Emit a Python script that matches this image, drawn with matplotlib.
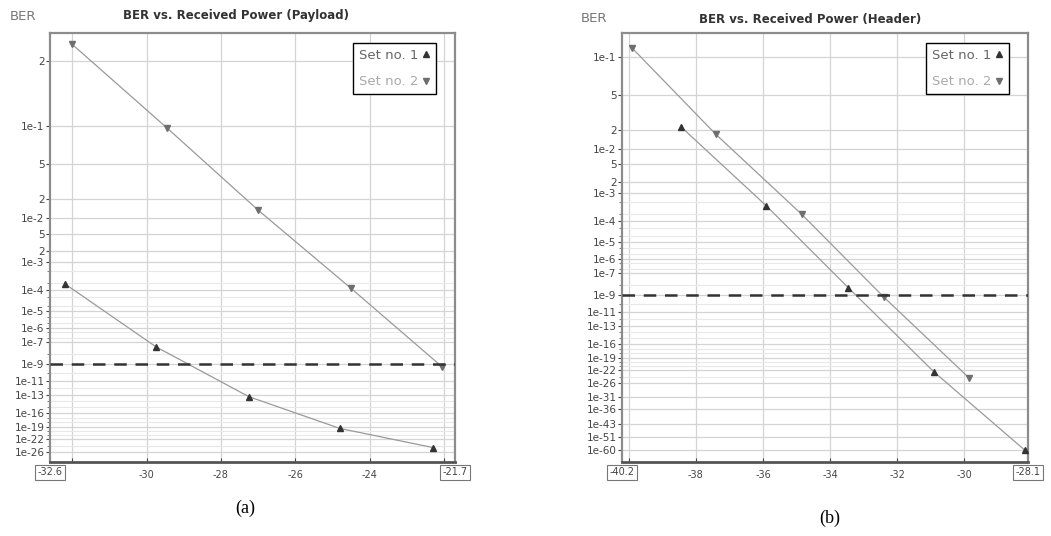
import math
from statistics import NormalDist

import numpy as np
import matplotlib
matplotlib.use("Agg")
import matplotlib.pyplot as plt
from matplotlib.lines import Line2D

# received power (dBm) and BER
x_pay_1 = [-32.2, -29.75, -27.25, -24.8, -22.3]
ber_pay_1 = [1.8e-4, 4e-8, 6e-14, 4e-20, 3e-25]
x_pay_2 = [-32.0, -29.45, -27.0, -24.5, -22.05]
ber_pay_2 = [0.225, 0.097, 1.35e-2, 1.2e-4, 5e-10]

x_hdr_1 = [-38.45, -35.9, -33.45, -30.9, -28.2]
ber_hdr_1 = [2.2e-2, 3.8e-4, 5e-9, 2.4e-23, 1e-60]
x_hdr_2 = [-39.9, -37.4, -34.85, -32.4, -29.85]
ber_hdr_2 = [0.113, 1.7e-2, 1.9e-4, 6e-10, 4e-25]

ber_limit = 1e-9

pay_xlim = (-32.6, -21.7)
hdr_xlim = (-40.2, -28.1)
pay_xticks = [-32, -30, -28, -26, -24, -22]
pay_xlabels = ["", "-30", "-28", "-26", "-24", ""]
hdr_xticks = [-40, -38, -36, -34, -32, -30]
hdr_xlabels = ["", "-38", "-36", "-34", "-32", "-30"]

pay_yticks = [2e-1, 1e-1, 5e-2, 2e-2, 1e-2, 5e-3, 2e-3, 1e-3, 1e-4, 1e-5, 1e-6,
              1e-7, 1e-9, 1e-11, 1e-13, 1e-16, 1e-19, 1e-22, 1e-26]
pay_ylabels = ["2", "1e-1", "5", "2", "1e-2", "5", "2", "1e-3", "1e-4", "1e-5",
               "1e-6", "1e-7", "1e-9", "1e-11", "1e-13", "1e-16", "1e-19", "1e-22", "1e-26"]
hdr_yticks = [1e-1, 5e-2, 2e-2, 1e-2, 5e-3, 2e-3, 1e-3, 1e-4, 1e-5, 1e-6, 1e-7,
              1e-9, 1e-11, 1e-13, 1e-16, 1e-19, 1e-22, 1e-26, 1e-31, 1e-36,
              1e-43, 1e-51, 1e-60]
hdr_ylabels = ["1e-1", "5", "2", "1e-2", "5", "2", "1e-3", "1e-4", "1e-5", "1e-6",
               "1e-7", "1e-9", "1e-11", "1e-13", "1e-16", "1e-19", "1e-22", "1e-26",
               "1e-31", "1e-36", "1e-43", "1e-51", "1e-60"]
minor_yticks = [5e-4, 2e-4, 5e-5, 2e-5, 5e-6, 2e-6, 5e-7, 2e-7, 1e-8, 1e-10,
                1e-12, 1e-14, 1e-15, 1e-17, 1e-18, 1e-20, 1e-21, 1e-24]

_nd = NormalDist()


def _qinv(v):
    if not (v > 0):
        return np.nan
    v = min(max(v, 1e-300), 0.49)
    return -_nd.inv_cdf(v)


# y axis: -log10(Q^-1(BER)), so that the BER falls downward
def ber_fwd(p):
    q = np.vectorize(_qinv, otypes=[float])(np.asarray(p, dtype=float))
    return -np.log10(q)


def ber_inv(y):
    y = np.clip(np.asarray(y, dtype=float), -2, 3)
    return np.vectorize(lambda v: 0.5 * math.erfc(10 ** (-v) / math.sqrt(2)),
                        otypes=[float])(y)


fig = plt.figure(figsize=(10.51, 5.36), dpi=100)
ax_a = fig.add_axes([50 / 1051, 1 - 462 / 536, 405 / 1051, 429 / 536])
ax_b = fig.add_axes([622 / 1051, 1 - 462 / 536, 406 / 1051, 429 / 536])

panels = [
    (ax_a, x_pay_1, ber_pay_1, x_pay_2, ber_pay_2, pay_xlim, pay_xticks, pay_xlabels,
     pay_yticks, pay_ylabels, (0.2415, 4.6e-30)),
    (ax_b, x_hdr_1, ber_hdr_1, x_hdr_2, ber_hdr_2, hdr_xlim, hdr_xticks, hdr_xlabels,
     hdr_yticks, hdr_ylabels, (0.136, 1.5e-70)),
]

for ax, x1, b1, x2, b2, xlim, xt, xl, yt, yl, ylim in panels:
    ax.set_yscale("function", functions=(ber_fwd, ber_inv))
    ax.plot(x1, b1, color="#9a9a9a", lw=0.9, marker="^", ms=5,
            mfc="#333333", mec="#333333", zorder=3)
    ax.plot(x2, b2, color="#9a9a9a", lw=0.9, marker="v", ms=5,
            mfc="#6e6e6e", mec="#6e6e6e", zorder=3)
    ax.axhline(ber_limit, color="#333333", lw=1.8, ls=(0, (5, 3.5)), zorder=4)

    ax.set_xlim(xlim)
    ax.set_ylim(ylim[1], ylim[0])
    ax.set_xticks(xt)
    ax.set_xticklabels(xl)
    ax.set_yticks(yt)
    ax.set_yticklabels(yl)
    ax.set_yticks([m for m in minor_yticks if ylim[1] < m < ylim[0]], minor=True)

    ax.grid(which="major", color="#d4d4d4", lw=0.9)
    ax.grid(which="minor", axis="y", color="#e8e8e8", lw=0.8)
    ax.set_axisbelow(True)
    ax.tick_params(axis="y", which="major", length=3, width=0.8, color="#444444",
                   labelsize=7.5, labelcolor="#444444", pad=1)
    ax.tick_params(axis="y", which="minor", length=2, width=0.6, color="#666666")
    ax.tick_params(axis="x", direction="in", length=3, width=0.8, color="#444444",
                   labelsize=7, labelcolor="#444444", pad=6)
    for side in ["left", "right", "top"]:
        ax.spines[side].set_color("#8c8c8c")
        ax.spines[side].set_linewidth(1.6)
    ax.spines["bottom"].set_color("#555555")
    ax.spines["bottom"].set_linewidth(2)

    # boxed range labels at both ends of the x axis
    for xe, txt in [(0, f"{xlim[0]:g}"), (1, f"{xlim[1]:g}")]:
        ax.text(xe, -0.024, txt, transform=ax.transAxes, ha="center", va="center",
                fontsize=7, color="#444444",
                bbox=dict(boxstyle="square,pad=0.25", fc="white", ec="#777777", lw=0.8))

    handles = [
        Line2D([], [], ls="none", marker="^", ms=5, color="#333333"),
        Line2D([], [], ls="none", marker="v", ms=5, color="#6e6e6e"),
    ]
    leg = ax.legend(handles, ["Set no. 1", "Set no. 2"], loc="upper right",
                    bbox_to_anchor=(1 - 19 / 405, 1 - 10 / 429), borderaxespad=0,
                    markerfirst=False, handlelength=0.6, handletextpad=0.3,
                    labelspacing=1.0, borderpad=0.45, fontsize=9.5, fancybox=False,
                    framealpha=1, edgecolor="black", labelcolor=["#666666", "#aaaaaa"])
    leg.get_frame().set_linewidth(1.0)

fig.text(10 / 1051, 1 - 16 / 536, "BER", fontsize=9.5, color="#777777", va="center")
fig.text(236 / 1051, 1 - 16 / 536, "BER vs. Received Power (Payload)", fontsize=8.5,
         fontweight="bold", color="#333333", ha="center", va="center")
fig.text(581 / 1051, 1 - 19 / 536, "BER", fontsize=9.5, color="#777777", va="center")
fig.text(810 / 1051, 1 - 20 / 536, "BER vs. Received Power (Header)", fontsize=8.5,
         fontweight="bold", color="#333333", ha="center", va="center")

fig.text(245 / 1051, 1 - 508 / 536, "(a)", fontsize=13, family="Liberation Serif",
         ha="center", va="center")
fig.text(830 / 1051, 1 - 518 / 536, "(b)", fontsize=13, family="Liberation Serif",
         ha="center", va="center")

fig.savefig("out.png", dpi=100, facecolor="white")
